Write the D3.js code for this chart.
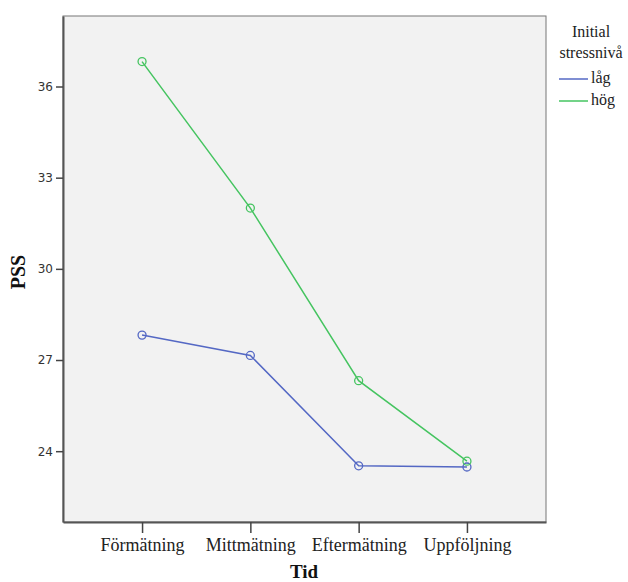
<!DOCTYPE html>
<html><head><meta charset="utf-8">
<script src="https://cdn.jsdelivr.net/npm/d3@7"></script>
<style>body{margin:0;background:#fff}</style>
</head><body>
<script>
const categories = ["Förmätning","Mittmätning","Eftermätning","Uppföljning"];
const seriesNames = ["låg","hög"];
const lagValues = [27.82, 27.15, 23.52, 23.48];
const hogValues = [36.82, 32.0, 26.32, 23.67];
const yTicks = [24, 27, 30, 33, 36];
const colors = ["#5468c4", "#45c460"];

const W = 628, H = 582;
const L = 63, T = 16, R = 546, B = 522;
const svg = d3.select("body").append("svg").attr("width", W).attr("height", H);

const x = d3.scalePoint().domain(categories).range([L, R]).padding(0.73);
const y = d3.scaleLinear().domain([21.67, 38.32]).range([B, T]);

svg.append("rect").attr("x", L).attr("y", T).attr("width", R - L).attr("height", B - T)
  .attr("fill", "#f2f2f2").attr("stroke", "#777").attr("stroke-width", 1);

const yAxis = svg.append("g").attr("transform", `translate(${L},0)`)
  .call(d3.axisLeft(y).tickValues(yTicks).tickSize(7).tickSizeOuter(0).tickPadding(3));
yAxis.attr("font-family", null).attr("font-size", null);
yAxis.select(".domain").attr("stroke", "#555").attr("stroke-width", 2);
yAxis.selectAll(".tick line").attr("stroke", "#444").attr("stroke-width", 1.5);
yAxis.selectAll("text").style("font-family", "'DejaVu Sans'").style("font-size", "12px").attr("fill", "#333");

const xAxis = svg.append("g").attr("transform", `translate(0,${B})`)
  .call(d3.axisBottom(x).tickSize(11).tickSizeOuter(0).tickPadding(5));
xAxis.attr("font-family", null).attr("font-size", null);
xAxis.select(".domain").attr("stroke", "#555").attr("stroke-width", 2);
xAxis.selectAll(".tick line").attr("stroke", "#444").attr("stroke-width", 1.5);
xAxis.selectAll("text").style("font-family", "'Liberation Serif', serif").style("font-size", "18px").attr("fill", "#222");

const series = [lagValues, hogValues];
series.forEach((vals, i) => {
  const pts = categories.map((c, j) => [x(c), y(vals[j])]);
  svg.append("path").attr("d", d3.line()(pts)).attr("fill", "none")
    .attr("stroke", colors[i]).attr("stroke-width", 1.5);
  svg.selectAll(null).data(pts).enter().append("circle")
    .attr("cx", d => d[0]).attr("cy", d => d[1]).attr("r", 4)
    .attr("fill", "none").attr("stroke", colors[i]).attr("stroke-width", 1.3);
});

svg.append("text").attr("transform", `translate(25,272) rotate(-90)`)
  .attr("text-anchor", "middle").style("font-family", "'Liberation Serif', serif")
  .attr("font-weight", "bold").style("font-size", "20px").attr("fill", "#111").text("PSS");
svg.append("text").attr("x", 304).attr("y", 578).attr("text-anchor", "middle")
  .style("font-family", "'Liberation Serif', serif").attr("font-weight", "bold")
  .style("font-size", "19px").attr("fill", "#111").text("Tid");

const lg = svg.append("g").style("font-family", "'Liberation Serif', serif").style("font-size", "16px").attr("fill", "#222");
lg.append("text").attr("x", 591).attr("y", 37).attr("text-anchor", "middle").text("Initial");
lg.append("text").attr("x", 591).attr("y", 58).attr("text-anchor", "middle").text("stressnivå");
seriesNames.forEach((n, i) => {
  const yy = 79 + i * 22;
  lg.append("line").attr("x1", 559).attr("x2", 588).attr("y1", yy).attr("y2", yy)
    .attr("stroke", colors[i]).attr("stroke-width", 1.5);
  lg.append("text").attr("x", 591).attr("y", yy + 4).text(n);
});
</script>
</body></html>
